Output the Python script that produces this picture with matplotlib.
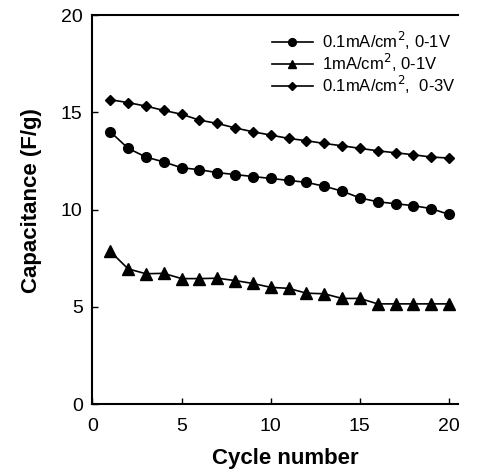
import matplotlib
matplotlib.use("Agg")
import matplotlib.pyplot as plt

plt.rcParams['font.family'] = ['Liberation Sans', 'DejaVu Sans']

cycles = list(range(1, 21))
cap_01_1V = [14.0, 13.15, 12.7, 12.45, 12.15, 12.05, 11.9, 11.8, 11.7, 11.6,
             11.5, 11.4, 11.2, 10.95, 10.6, 10.4, 10.3, 10.2, 10.05, 9.75]
cap_1_1V = [7.85, 6.95, 6.7, 6.72, 6.45, 6.45, 6.47, 6.35, 6.2, 6.0,
            5.95, 5.7, 5.67, 5.43, 5.43, 5.15, 5.15, 5.15, 5.15, 5.15]
cap_01_3V = [15.65, 15.5, 15.32, 15.1, 14.9, 14.6, 14.43, 14.2, 14.0, 13.83,
             13.66, 13.54, 13.4, 13.28, 13.15, 13.02, 12.92, 12.82, 12.7, 12.65]
labels = ['0.1mA/cm$^2$, 0-1V', '1mA/cm$^2$, 0-1V', '0.1mA/cm$^2$,  0-3V']

fig = plt.figure(figsize=(4.79, 4.72), dpi=100)
ax = fig.add_axes([0.193, 0.144, 0.763, 0.824])

ax.plot(cycles, cap_01_1V, '-o', color='black', markersize=7, linewidth=1.2, label=labels[0])
ax.plot(cycles, cap_1_1V, '-^', color='black', markersize=8, linewidth=1.2, label=labels[1])
ax.plot(cycles, cap_01_3V, '-D', color='black', markersize=5, linewidth=1.2, label=labels[2])

ax.set_xlim(0, 20.5)
ax.set_ylim(0, 20)
ax.set_xticks([0, 5, 10, 15, 20])
ax.set_yticks([0, 5, 10, 15, 20])
ax.tick_params(direction='in', length=4, width=1, labelsize=14)
ax.tick_params(axis='x', pad=10)
ax.tick_params(axis='y', pad=7)
ax.spines['right'].set_visible(False)
for s in ['left', 'bottom', 'top']:
    ax.spines[s].set_linewidth(1.5)

ax.set_xlabel('Cycle number', fontsize=16, fontweight='bold')
ax.set_ylabel('Capacitance (F/g)', fontsize=16, fontweight='bold')
ax.xaxis.set_label_coords(0.527, -0.113)
ax.yaxis.set_label_coords(-0.138, 0.522)

ax.legend(loc='upper left', bbox_to_anchor=(0.49, 0.962), frameon=False, fontsize=12,
          handlelength=2.5, handletextpad=0.5, labelspacing=0.0, borderaxespad=0,
          borderpad=0, markerscale=0.8)

fig.savefig('out.png', dpi=100)
